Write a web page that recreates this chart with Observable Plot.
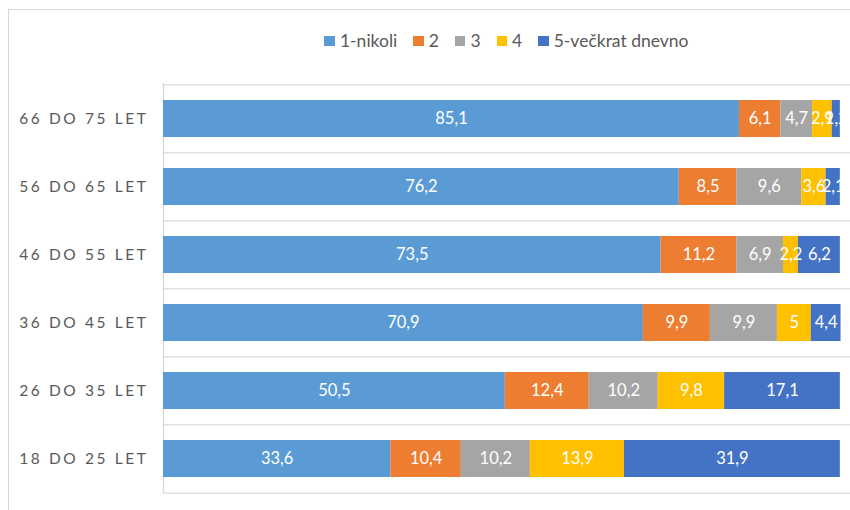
<!DOCTYPE html>
<html>
<head>
<meta charset="utf-8">
<script src="https://cdn.jsdelivr.net/npm/d3@7"></script>
<script src="https://cdn.jsdelivr.net/npm/@observablehq/plot@0.6"></script>
<style>
  html, body { margin: 0; padding: 0; background: #fff; overflow: hidden; }
  #wrap { position: relative; width: 850px; height: 510px; font-family: Lato, "Open Sans", sans-serif; }
  #border { position: absolute; left: 8px; top: 9px; width: 1000px; height: 700px; border: 1.5px solid #d9d9d9; box-sizing: border-box; }
  #legend { position: absolute; top: 30px; left: 0; width: 1013px; display: flex; justify-content: center; gap: 16px; font-size: 17.5px; color: #595959; line-height: 22px; }
  #legend .item { display: flex; align-items: center; gap: 5px; }
  #legend .sw { width: 10.5px; height: 10.5px; display: inline-block; }
  #chart { position: absolute; left: 0; top: 81px; }
  g[aria-label="y-axis tick label"] text { letter-spacing: 2.6px; }
</style>
</head>
<body>
<div id="wrap">
  <div id="border"></div>
  <div id="legend"></div>
  <div id="chart"></div>
</div>
<script>
const categories = ["66 DO 75 LET", "56 DO 65 LET", "46 DO 55 LET", "36 DO 45 LET", "26 DO 35 LET", "18 DO 25 LET"];
const series = ["1-nikoli", "2", "3", "4", "5-večkrat dnevno"];
const colors = ["#5B9BD5", "#ED7D31", "#A5A5A5", "#FFC000", "#4472C4"];
const nikoli = [85.1, 76.2, 73.5, 70.9, 50.5, 33.6];
const s2 = [6.1, 8.5, 11.2, 9.9, 12.4, 10.4];
const s3 = [4.7, 9.6, 6.9, 9.9, 10.2, 10.2];
const s4 = [2.9, 3.6, 2.2, 5, 9.8, 13.9];
const s5 = [1.2, 2.1, 6.2, 4.4, 17.1, 31.9];

const seriesValues = [nikoli, s2, s3, s4, s5];
const data = [];
categories.forEach((c, i) => {
  series.forEach((s, j) => data.push({cat: c, series: s, value: seriesValues[j][i]}));
});
const fmt = v => String(v).replace(".", ",");

// legend
const leg = document.getElementById("legend");
series.forEach((s, j) => {
  const it = document.createElement("div");
  it.className = "item";
  it.innerHTML = `<span class="sw" style="background:${colors[j]}"></span><span>${s}</span>`;
  leg.appendChild(it);
});

const H = 429, mT = 2, mB = 17;
const step = (H - mT - mB) / categories.length;

const chart = Plot.plot({
  width: 850,
  height: H,
  marginLeft: 163,
  marginRight: 0,
  marginTop: mT,
  marginBottom: mB,
  style: {fontFamily: "Lato, 'Open Sans', sans-serif", background: "transparent"},
  x: {domain: [0, 101.5], axis: null},
  y: {domain: categories, paddingInner: 0.46, paddingOuter: 0.23, label: null, tickSize: 0, tickPadding: 15, fontSize: 15},
  color: {domain: series, range: colors},
  marks: [
    Plot.ruleY(categories, {y: d => d, dy: -step / 2, stroke: "#d9d9d9", strokeWidth: 1.3}),
    Plot.ruleY(categories.slice(-1), {y: d => d, dy: step / 2, stroke: "#d9d9d9", strokeWidth: 1.3}),
    Plot.ruleX([0], {stroke: "#d9d9d9", strokeWidth: 1.3}),
    Plot.barX(data, {x: "value", y: "cat", fill: "series"}),
    Plot.text(data, Plot.stackX({x: "value", y: "cat", z: "series", text: d => fmt(d.value), fill: "white", fontSize: 16.5})),
    Plot.axisY({tickSize: 0, tickPadding: 15, fontSize: 15.5, color: "#595959", label: null})
  ]
});
document.getElementById("chart").appendChild(chart);
</script>
</body>
</html>
